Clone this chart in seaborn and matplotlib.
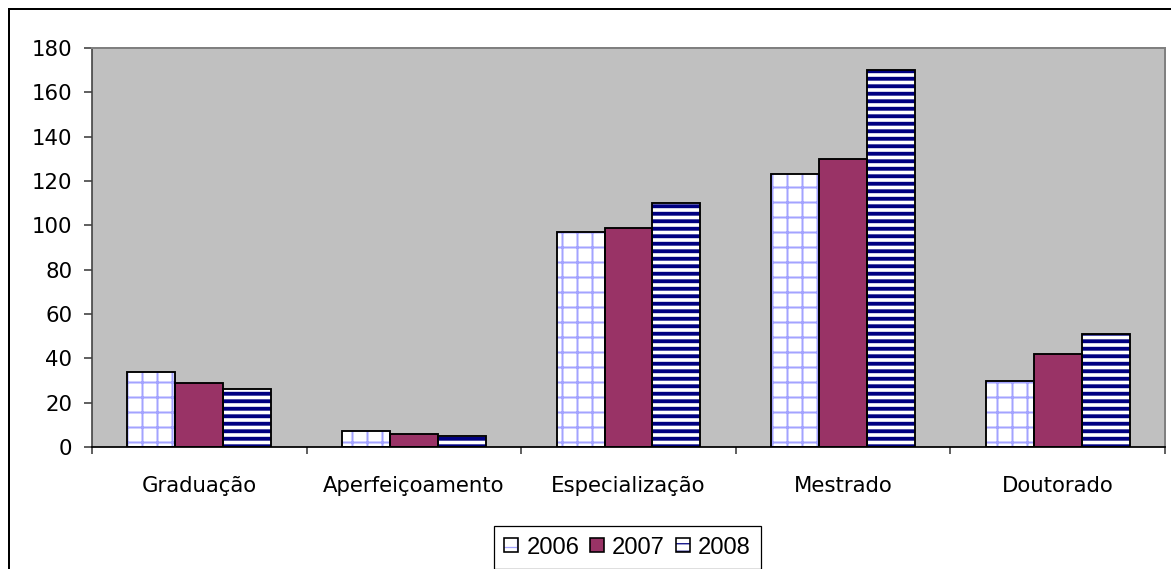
import numpy as np
import pandas as pd
import matplotlib
matplotlib.use("Agg")
import matplotlib.pyplot as plt
import seaborn as sns
from matplotlib.patches import Rectangle, Patch
from matplotlib.legend_handler import HandlerTuple

# Chart data
niveis = ["Graduação", "Aperfeiçoamento", "Especialização", "Mestrado", "Doutorado"]
anos = ["2006", "2007", "2008"]
v2006 = [34, 7, 97, 123, 30]
v2007 = [29, 6, 99, 130, 42]
v2008 = [26, 5, 110, 170, 51]
y_ticks = [0, 20, 40, 60, 80, 100, 120, 140, 160, 180]

df = pd.DataFrame({
    "Nível": niveis * 3,
    "Ano": np.repeat(anos, len(niveis)),
    "Valor": v2006 + v2007 + v2008,
})

# Fill style per year: face colour, hatch pattern, hatch colour, hatch width
estilos = {
    "2006": dict(face="white", hatch="+", hcolor="#a3a3ff", hlw=1.6),
    "2007": dict(face="#993366", hatch=None, hcolor="#993366", hlw=1.0),
    "2008": dict(face="white", hatch="--", hcolor="#000080", hlw=3.1),
}

DPI = 90
W, H = 1171, 569
fig = plt.figure(figsize=(W / DPI, H / DPI), dpi=DPI)
ax = fig.add_axes([92 / W, 1 - 447 / H, (1165 - 92) / W, (447 - 48) / H])
ax.set_facecolor("#c0c0c0")

sns.barplot(
    data=df, x="Nível", y="Valor", hue="Ano",
    order=niveis, hue_order=anos,
    palette=[estilos[a]["face"] for a in anos],
    width=0.67, gap=0, errorbar=None, legend=False,
    saturation=1, ax=ax,
)

if not hasattr(Patch, "set_hatch_linewidth"):
    plt.rcParams["hatch.linewidth"] = 2.4

for container, ano in zip(ax.containers, anos):
    st = estilos[ano]
    for bar in container:
        bar.set_facecolor(st["face"])
        bar.set_edgecolor(st["hcolor"])
        bar.set_linewidth(0)
        if st["hatch"]:
            bar.set_hatch(st["hatch"])
            if hasattr(bar, "set_hatch_linewidth"):
                bar.set_hatch_linewidth(st["hlw"])
        # black outline on top of the hatched fill
        ax.add_patch(Rectangle(bar.get_xy(), bar.get_width(), bar.get_height(),
                               fill=False, edgecolor="black", linewidth=1.5,
                               zorder=bar.get_zorder() + 0.1))

ax.set_xlim(-0.5, len(niveis) - 0.5)
ax.set_ylim(0, 180)
ax.set_yticks(y_ticks)
ax.set_xticks(range(len(niveis)))
ax.set_xticklabels(niveis)
ax.set_xticks(np.arange(-0.5, len(niveis), 1.0), minor=True)
ax.set_xlabel("")
ax.set_ylabel("")

ax.tick_params(axis="x", which="major", length=0, pad=23, labelsize=17)
ax.tick_params(axis="x", which="minor", length=5.6, width=1.2,
               color="#303030", direction="out")
ax.tick_params(axis="y", length=6.2, width=1.2, color="#303030",
               pad=9.5, labelsize=17, direction="out")
for lab in ax.get_xticklabels() + ax.get_yticklabels():
    lab.set_family("DejaVu Sans")

ax.spines["left"].set_color("#404040")
ax.spines["left"].set_linewidth(1.3)
ax.spines["bottom"].set_color("black")
ax.spines["bottom"].set_linewidth(1.4)
for s in ("top", "right"):
    ax.spines[s].set_color("#808080")
    ax.spines[s].set_linewidth(1.6)

# Legend with hatched swatches outlined in black
handles = []
for ano in anos:
    st = estilos[ano]
    fill = Patch(facecolor=st["face"], edgecolor=st["hcolor"], linewidth=0,
                 hatch=st["hatch"])
    if st["hatch"] and hasattr(fill, "set_hatch_linewidth"):
        fill.set_hatch_linewidth(st["hlw"])
    edge = Patch(fill=False, edgecolor="black", linewidth=1.3)
    handles.append((fill, edge))

leg = fig.legend(
    handles, anos, loc="upper center",
    bbox_to_anchor=(627.5 / W, 1 - 526 / H),
    ncol=3, frameon=True, fancybox=False, framealpha=1,
    edgecolor="black", facecolor="white",
    prop={"family": "Liberation Sans", "size": 19},
    handler_map={tuple: HandlerTuple(ndivide=1, pad=0)},
    handlelength=0.58, handleheight=0.55, handletextpad=0.35,
    columnspacing=0.45, borderpad=0.45, borderaxespad=0,
)
leg.get_frame().set_linewidth(1.0)

# Outer chart frame
fig.add_artist(Rectangle((9 / W, -0.1), 1.2, (H - 9) / H + 0.1,
                         transform=fig.transFigure, fill=False,
                         edgecolor="black", linewidth=1.6))

fig.savefig("out.png", dpi=DPI)
